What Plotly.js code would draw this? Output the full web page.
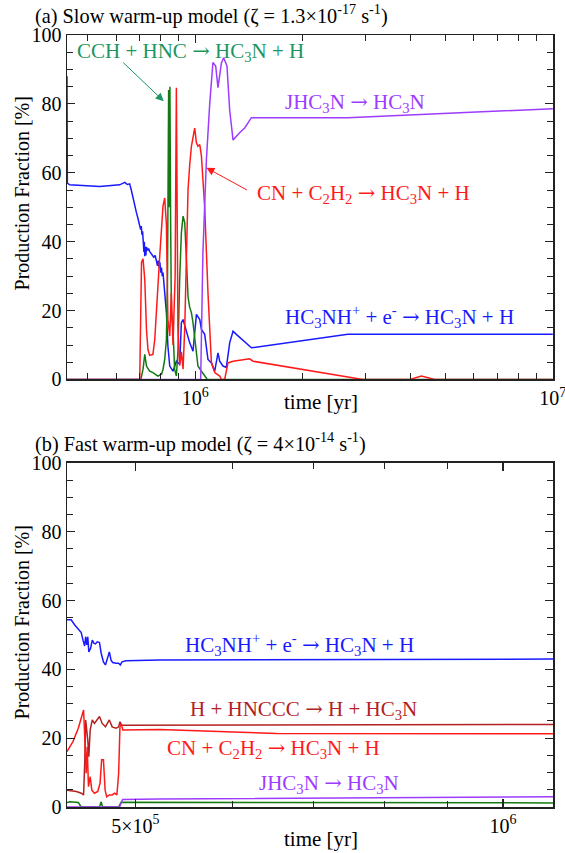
<!DOCTYPE html>
<html><head><meta charset="utf-8">
<script src="https://cdn.plot.ly/plotly-3.0.1.min.js"></script>
<style>html,body{margin:0;padding:0;background:#fff}#plot{width:565px;height:853px}</style>
</head><body><div id="plot"></div>
<script>
// ---------- Panel (a): slow warm-up ----------
const a_blue_t = [4.375e5,4.385e5,4.45e5,5.4e5,6.14e5,6.35e5,6.45e5,6.55e5,6.62e5,6.68e5,6.76e5,6.84e5,6.92e5,6.99e5,7.03e5,7.06e5,7.09e5,7.12e5,7.14e5,7.16e5,7.18e5,7.20e5,7.22e5,7.24e5,7.27e5,7.30e5,7.35e5,7.40e5,7.45e5,7.55e5,7.65e5,7.72e5,7.78e5,7.84e5,7.88e5,7.92e5,7.96e5,8.00e5,8.04e5,8.08e5,8.12e5,8.16e5,8.21e5,8.25e5,8.30e5,8.38e5,8.48e5,8.66e5,8.85e5,9.04e5,9.14e5,9.24e5,9.44e5,9.64e5,9.85e5,1.007e6,1.029e6,1.040e6,1.062e6,1.085e6,1.109e6,1.133e6,1.157e6,1.170e6,1.195e6,1.221e6,1.248e6,1.275e6,1.302e6,1.435e6,2.67e6,1e7];
const a_blue_v = [88,57,56.5,56,56.5,57.2,56.6,56.8,55,53,51,48.5,46.5,45,43.5,44.5,42,43,40,41.5,37,40,35.8,38.5,36,38.5,37.5,38,37.2,36.5,35.5,36,34.8,33,34.5,32.5,34,31,32.5,30,31,28.5,27,23,19.4,9.7,3.9,2.4,5.3,4.4,16.5,17.4,13.6,10.7,8.2,18.9,17.4,14.5,13.1,5.8,4.8,2.4,7.7,5.3,3.9,3.5,10.7,14,13.1,9.2,13.1,13.1];

const a_red_t = [4.375e5,6.99e5,7.07e5,7.14e5,7.22e5,7.30e5,7.37e5,7.45e5,7.61e5,7.70e5,7.78e5,7.86e5,7.95e5,8.04e5,8.12e5,8.21e5,8.30e5,8.38e5,8.48e5,8.57e5,8.66e5,8.78e5,8.85e5,8.94e5,9.04e5,9.14e5,9.24e5,9.34e5,9.44e5,9.54e5,9.64e5,9.75e5,9.96e5,1.007e6,1.017e6,1.029e6,1.040e6,1.062e6,1.085e6,1.109e6,1.133e6,1.170e6,1.183e6,1.208e6,1.234e6,1.275e6,1.419e6,1.450e6,2.94e6,3.98e6,4.29e6,4.67e6,1e7];
const a_red_v = [0,0,34,35,29,14.5,8.7,7,7.3,11.6,19.4,29,35.8,43.5,50.3,52.7,45,17.4,12.6,25,10,30,84.7,15,4,8,3,15,35,55,62,67.7,73,68.7,67.7,68.2,64.8,50,25,5,2,1,0,0,4.8,5.3,6,5.3,0,0,1,0,0];

const a_green_t = [4.375e5,7.04e5,7.14e5,7.22e5,7.30e5,7.45e5,7.61e5,7.86e5,8.04e5,8.12e5,8.21e5,8.30e5,8.36e5,8.42e5,8.45e5,8.49e5,8.53e5,8.57e5,8.66e5,8.75e5,8.85e5,8.94e5,9.04e5,9.14e5,9.24e5,9.34e5,9.44e5,9.54e5,9.64e5,9.75e5,9.85e5,1.007e6,1.017e6,1.040e6,1.062e6,1.08e6,1e7];
const a_green_v = [0,0,3,7.3,3.9,2.4,2,1,1.5,2.9,5.8,11.6,30,84,50,85,45,20,14.5,3,1,8,29,42.6,47.4,45.5,35,24,21,19.4,16.5,7.7,3.9,2.4,1,0,0];

const a_purple_t = [4.375e5,1.035e6,1.050e6,1.074e6,1.097e6,1.120e6,1.140e6,1.157e6,1.183e6,1.200e6,1.226e6,1.248e6,1.275e6,1.302e6,1.330e6,1.374e6,1.435e6,2.67e6,1e7];
const a_purple_v = [0,0,36.7,63.9,80,92,91,84.7,91.9,93.4,91,78,69.5,70.6,71.6,73,76,76,78.6];

// ---------- Panel (b): fast warm-up ----------
const b_blue_t = [4.395e5,4.43e5,4.46e5,4.49e5,4.515e5,4.53e5,4.544e5,4.553e5,4.563e5,4.571e5,4.58e5,4.595e5,4.61e5,4.624e5,4.638e5,4.653e5,4.673e5,4.688e5,4.708e5,4.726e5,4.747e5,4.761e5,4.776e5,4.791e5,4.821e5,4.845e5,4.86e5,4.876e5,4.912e5,5.235e5,1.1e6];
const b_blue_v = [54.4,54.4,52.9,51.5,50.7,48.5,46.8,49.5,47.1,49.5,45.1,46.1,48.5,47.6,47.4,48,47.8,44.7,42.2,41.3,43.2,45.1,42.7,42,41.8,41.8,41.3,42.2,42.5,42.7,43.0];

const b_darkred_t = [4.395e5,4.474e5,4.515e5,4.535e5,4.546e5,4.553e5,4.571e5,4.58e5,4.592e5,4.61e5,4.629e5,4.649e5,4.673e5,4.697e5,4.726e5,4.761e5,4.786e5,4.821e5,4.845e5,4.857e5,4.87e5,1.1e6];
const b_darkred_v = [4.9,4.5,4,3.5,14,25.3,19.5,14.6,22.4,25.3,24.3,25.3,26.3,24.3,23.3,25.3,23.3,22.9,23.3,24.8,23.8,24.0];

const b_red_t = [4.395e5,4.445e5,4.49e5,4.515e5,4.535e5,4.546e5,4.557e5,4.566e5,4.577e5,4.592e5,4.606e5,4.629e5,4.658e5,4.678e5,4.692e5,4.708e5,4.723e5,4.737e5,4.761e5,4.786e5,4.808e5,4.829e5,4.845e5,4.857e5,4.867e5,4.883e5,5.235e5,6.53e5,1.1e6];
const b_red_v = [16.1,19,22.9,25.8,28.2,19.5,9.8,17.5,5.9,8.8,4.9,4,4.5,6.9,13.7,13.7,4.9,3,3.5,3.5,4,3.5,9.8,23.3,24.3,22.4,22.5,21.4,21.3];

const b_purple_t = [4.395e5,4.854e5,4.881e5,5.235e5,1.1e6];
const b_purple_v = [0,0,2.2,2.3,3.0];

const b_green_t = [4.395e5,4.42e5,4.49e5,4.50e5,4.515e5,4.673e5,4.688e5,4.70e5,4.845e5,4.867e5,1.1e6];
const b_green_v = [1.3,1.5,1.3,0.8,0,0,1.5,0,0,1.4,1.2];

// tick labels
const a_xticks = [1e6, 1e7];
const a_xticktext = ['10<sup>6</sup>', '10<sup>7</sup>'];
const b_xticks = [5e5, 1e6];
const b_xticktext = ['5×10<sup>5</sup>', '10<sup>6</sup>'];
const yticks = [0, 20, 40, 60, 80, 100];

// ---------- styling ----------
const FONT = 'Liberation Serif';
const ARR = '<span style="font-family:DejaVu Serif">→</span>';
const C_BLUE = '#1a1aff', C_RED = '#ff1a1a', C_DARKRED = '#b22222',
      C_PURPLE = '#9d3cff', C_GREEN = '#137a13', C_GREENTXT = '#1b9660';

function line(t, v, color, xa, ya) {
  return {x: t, y: v, type: 'scatter', mode: 'lines', xaxis: xa, yaxis: ya,
          line: {color: color, width: 1.5}, hoverinfo: 'skip', showlegend: false};
}

const traces = [
  line(a_blue_t, a_blue_v, C_BLUE, 'x', 'y'),
  line(a_green_t, a_green_v, C_GREEN, 'x', 'y'),
  line(a_red_t, a_red_v, C_RED, 'x', 'y'),
  line(a_purple_t, a_purple_v, C_PURPLE, 'x', 'y'),
  line(b_green_t, b_green_v, C_GREEN, 'x2', 'y2'),
  line(b_purple_t, b_purple_v, C_PURPLE, 'x2', 'y2'),
  line(b_blue_t, b_blue_v, C_BLUE, 'x2', 'y2'),
  line(b_darkred_t, b_darkred_v, C_DARKRED, 'x2', 'y2'),
  line(b_red_t, b_red_v, C_RED, 'x2', 'y2')
];

function minorLogVals(lo, hi) {
  const out = [];
  for (let d = 5; d <= 7; d++) for (let k = 2; k <= 9; k++) {
    const v = k * Math.pow(10, d);
    if (v > lo && v < hi) out.push(v);
  }
  return out;
}

const common = {
  showline: true, linecolor: '#222', linewidth: 1.5, mirror: 'ticks',
  ticks: 'inside', ticklen: 8, tickwidth: 1.2, tickcolor: '#222',
  showgrid: false, zeroline: false, ticklabeloverflow: 'allow',
  tickfont: {family: FONT, size: 20, color: '#000'}
};

const xaTop = Object.assign({}, common, {
  type: 'log', range: [5.641, 7.0005], anchor: 'y', domain: [0, 1],
  tickmode: 'array', tickvals: a_xticks, ticktext: a_xticktext,
  minor: {ticks: 'inside', ticklen: 6, tickwidth: 1, tickcolor: '#222',
          tickmode: 'array', tickvals: minorLogVals(4.37e5, 1e7)}
});
const xaBot = Object.assign({}, common, {
  type: 'log', range: [5.643, 6.041], anchor: 'y2', domain: [0, 1],
  tickmode: 'array', tickvals: b_xticks, ticktext: b_xticktext,
  minor: {ticks: 'inside', ticklen: 6, tickwidth: 1, tickcolor: '#222',
          tickmode: 'array', tickvals: minorLogVals(4.39e5, 1.099e6).filter(v => v !== 5e5)}
});
function yax(dom, anchor) {
  return Object.assign({}, common, {
    range: [0, 100], domain: dom, anchor: anchor,
    tickmode: 'array', tickvals: yticks,
    minor: {ticks: 'inside', ticklen: 6, tickwidth: 1, tickcolor: '#222', dtick: 5}
  });
}

function txt(text, x, y, color, xref, yref, extra) {
  return Object.assign({text: text, x: x, y: y, xref: xref, yref: yref,
    xanchor: 'left', yanchor: 'middle', showarrow: false,
    font: {family: FONT, size: 21, color: color}}, extra || {});
}
function arrow(x, y, ax, ay, color, xref, yref) {
  return {text: '', x: x, y: y, xref: xref, yref: yref, ax: ax, ay: ay,
    showarrow: true, arrowhead: 2, arrowsize: 1.6, arrowwidth: 1, arrowcolor: color, standoff: 0};
}

const annotations = [
  // panel titles
  txt('(a) Slow warm-up model (ζ = 1.3×10<sup>-17</sup> s<sup>-1</sup>)', -0.07, 1.0265, '#000', 'paper', 'paper', {font: {family: FONT, size: 20.3, color: '#000'}}),
  txt('(b) Fast warm-up model (ζ = 4×10<sup>-14</sup> s<sup>-1</sup>)', -0.07, 0.472, '#000', 'paper', 'paper', {font: {family: FONT, size: 20.3, color: '#000'}}),
  // axis titles
  txt('Production Fraction [%]', -0.0926, 0.7947, '#000', 'paper', 'paper', {xanchor: 'center', textangle: -90, font: {family: FONT, size: 20, color: '#000'}}),
  txt('Production Fraction [%]', -0.0926, 0.239, '#000', 'paper', 'paper', {xanchor: 'center', textangle: -90, font: {family: FONT, size: 20, color: '#000'}}),
  txt('time [yr]', 0.5226, 0.524, '#000', 'paper', 'paper', {xanchor: 'center', font: {family: FONT, size: 21, color: '#000'}}),
  txt('time [yr]', 0.5226, -0.0415, '#000', 'paper', 'paper', {xanchor: 'center', font: {family: FONT, size: 21, color: '#000'}}),
  // panel (a) labels
  txt('CCH + HNC ' + ARR + ' HC<sub>3</sub>N + H', 0.0165, 95.2, C_GREENTXT, 'paper', 'y'),
  arrow(5.9115, 80.8, -42, -40, C_GREENTXT, 'x', 'y'),
  txt('JHC<sub>3</sub>N ' + ARR + ' HC<sub>3</sub>N', 0.444, 80.4, C_PURPLE, 'paper', 'y'),
  txt('CN + C<sub>2</sub>H<sub>2</sub> ' + ARR + ' HC<sub>3</sub>N + H', 0.387, 53.7, C_RED, 'paper', 'y'),
  arrow(6.031, 61.45, 42, 23, C_RED, 'x', 'y'),
  txt('HC<sub>3</sub>NH<sup>+</sup> + e<sup>-</sup> ' + ARR + ' HC<sub>3</sub>N + H', 0.444, 18.3, C_BLUE, 'paper', 'y'),
  // panel (b) labels
  txt('HC<sub>3</sub>NH<sup>+</sup> + e<sup>-</sup> ' + ARR + ' HC<sub>3</sub>N + H', 0.2395, 47.1, C_BLUE, 'paper', 'y2'),
  txt('H + HNCCC ' + ARR + ' H + HC<sub>3</sub>N', 0.249, 28.3, C_DARKRED, 'paper', 'y2'),
  txt('CN + C<sub>2</sub>H<sub>2</sub> ' + ARR + ' HC<sub>3</sub>N + H', 0.2016, 16.9, C_RED, 'paper', 'y2'),
  txt('JHC<sub>3</sub>N ' + ARR + ' HC<sub>3</sub>N', 0.391, 6.7, C_PURPLE, 'paper', 'y2')
];

const layout = {
  width: 565, height: 853,
  margin: {l: 67, r: 12, t: 35, b: 46},
  paper_bgcolor: '#fff', plot_bgcolor: '#fff',
  font: {family: FONT, size: 20, color: '#000'},
  showlegend: false,
  xaxis: xaTop, yaxis: yax([0.5538, 1], 'x'),
  xaxis2: xaBot, yaxis2: yax([0, 0.4456], 'x2'),
  annotations: annotations
};

Plotly.newPlot('plot', traces, layout, {displayModeBar: false, staticPlot: true});
</script>
</body></html>
